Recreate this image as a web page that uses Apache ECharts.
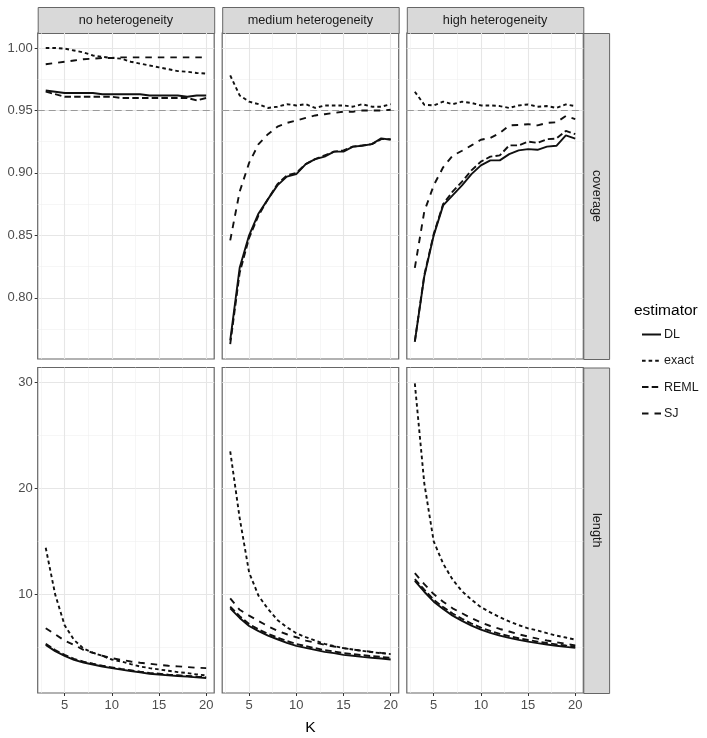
<!DOCTYPE html>
<html><head><meta charset="utf-8">
<script src="https://cdn.jsdelivr.net/npm/echarts@6/dist/echarts.min.js"></script>
<style>html,body{margin:0;padding:0;background:#fff}#c{width:707px;height:738px}</style>
</head><body><div id="c"></div>
<script>
// ---------- data ----------
const K = [3,4,5,6,7,8,9,10,11,12,13,14,15,16,17,18,19,20];
const facetCols = ["no heterogeneity", "medium heterogeneity", "high heterogeneity"];
const facetRows = ["coverage", "length"];
const estimators = ["DL", "exact", "REML", "SJ"];
const xTicks = [5, 10, 15, 20];
const xMinor = [2.5, 7.5, 12.5, 17.5];
const covTicks = [0.80, 0.85, 0.90, 0.95, 1.00];
const covMinor = [0.775, 0.825, 0.875, 0.925, 0.975];
const lenTicks = [10, 20, 30];
const lenMinor = [5, 15, 25];
const nominal = 0.95;

// coverage
const cov_none_DL    = [0.966,0.965,0.964,0.964,0.964,0.964,0.963,0.963,0.963,0.963,0.963,0.962,0.962,0.962,0.962,0.961,0.962,0.962];
const cov_none_exact = [1.000,1.000,0.9995,0.998,0.9965,0.994,0.993,0.992,0.9915,0.989,0.9875,0.986,0.9845,0.983,0.9815,0.981,0.980,0.9795];
const cov_none_REML  = [0.965,0.963,0.961,0.961,0.961,0.961,0.961,0.961,0.960,0.960,0.960,0.960,0.960,0.960,0.960,0.960,0.958,0.960];
const cov_none_SJ    = [0.987,0.988,0.989,0.990,0.991,0.9915,0.992,0.992,0.9925,0.9925,0.9925,0.9925,0.9925,0.9925,0.9925,0.9925,0.9925,0.9925];

const cov_med_DL     = [0.766,0.824,0.850,0.8675,0.879,0.890,0.897,0.899,0.907,0.911,0.913,0.917,0.917,0.921,0.9217,0.923,0.9276,0.9265];
const cov_med_exact  = [0.978,0.962,0.957,0.955,0.952,0.953,0.955,0.954,0.955,0.952,0.954,0.954,0.954,0.953,0.955,0.953,0.953,0.955];
const cov_med_REML   = [0.763,0.820,0.848,0.866,0.879,0.891,0.898,0.900,0.907,0.911,0.914,0.917,0.918,0.921,0.922,0.923,0.927,0.927];
const cov_med_SJ     = [0.846,0.885,0.908,0.923,0.931,0.937,0.940,0.942,0.944,0.946,0.947,0.948,0.949,0.949,0.950,0.950,0.950,0.9505];

const cov_high_DL    = [0.765,0.817,0.850,0.874,0.882,0.890,0.899,0.906,0.910,0.910,0.915,0.918,0.919,0.9185,0.921,0.9217,0.930,0.9275];
const cov_high_exact = [0.965,0.9546,0.954,0.957,0.955,0.957,0.956,0.954,0.954,0.9535,0.952,0.954,0.9548,0.953,0.9535,0.952,0.9548,0.9535];
const cov_high_REML  = [0.765,0.818,0.851,0.875,0.885,0.893,0.902,0.909,0.913,0.914,0.922,0.922,0.925,0.924,0.927,0.9275,0.9336,0.931];
const cov_high_SJ    = [0.824,0.869,0.890,0.9045,0.9137,0.9177,0.922,0.9265,0.928,0.932,0.938,0.9384,0.939,0.938,0.940,0.9405,0.9455,0.943];

// length
const len_none_DL    = [5.24,4.65,4.21,3.83,3.58,3.39,3.2,3.05,2.9,2.77,2.64,2.52,2.45,2.36,2.3,2.24,2.17,2.11];
const len_none_exact = [14.4,10.0,7.1,5.7,4.9,4.5,4.2,3.86,3.67,3.43,3.2,3.05,2.92,2.8,2.67,2.58,2.45,2.36];
const len_none_REML  = [5.35,4.75,4.3,3.92,3.66,3.46,3.27,3.12,2.97,2.84,2.71,2.59,2.52,2.43,2.37,2.31,2.24,2.18];
const len_none_SJ    = [6.81,6.24,5.64,5.24,4.77,4.49,4.21,3.99,3.83,3.67,3.55,3.46,3.36,3.27,3.21,3.15,3.08,3.05];

const len_med_DL     = [8.68,7.78,7.02,6.53,6.11,5.77,5.43,5.15,4.96,4.77,4.58,4.46,4.3,4.21,4.11,4.02,3.95,3.86];
const len_med_exact  = [23.5,17.2,12.07,9.87,8.62,7.59,6.9,6.34,5.96,5.64,5.33,5.12,4.93,4.8,4.68,4.55,4.46,4.37];
const len_med_REML   = [8.85,7.95,7.2,6.7,6.28,5.93,5.6,5.32,5.12,4.93,4.74,4.62,4.46,4.37,4.27,4.18,4.1,4.02];
const len_med_SJ     = [9.62,8.55,8.0,7.49,7.0,6.58,6.24,5.96,5.64,5.46,5.24,5.08,4.93,4.8,4.68,4.58,4.48,4.4];

const len_high_DL    = [11.28,10.25,9.31,8.62,8.0,7.5,7.05,6.68,6.37,6.11,5.9,5.71,5.55,5.4,5.27,5.15,5.05,4.96];
const len_high_exact = [29.9,20.5,15.0,12.9,11.4,10.3,9.5,8.8,8.3,7.85,7.45,7.1,6.8,6.6,6.34,6.11,5.93,5.74];
const len_high_REML  = [11.45,10.45,9.5,8.8,8.2,7.7,7.25,6.87,6.55,6.28,6.06,5.86,5.7,5.55,5.41,5.29,5.18,5.08];
const len_high_SJ    = [12.0,10.97,10.03,9.31,8.69,8.22,7.75,7.37,7.02,6.74,6.5,6.24,6.02,5.83,5.65,5.49,5.34,5.19];

// ---------- layout / style ----------
const panelData = [
  [ {DL:cov_none_DL, exact:cov_none_exact, REML:cov_none_REML, SJ:cov_none_SJ},
    {DL:cov_med_DL,  exact:cov_med_exact,  REML:cov_med_REML,  SJ:cov_med_SJ},
    {DL:cov_high_DL, exact:cov_high_exact, REML:cov_high_REML, SJ:cov_high_SJ} ],
  [ {DL:len_none_DL, exact:len_none_exact, REML:len_none_REML, SJ:len_none_SJ},
    {DL:len_med_DL,  exact:len_med_exact,  REML:len_med_REML,  SJ:len_med_SJ},
    {DL:len_high_DL, exact:len_high_exact, REML:len_high_REML, SJ:len_high_SJ} ]
];
const FONT = "'Liberation Sans', Arial, Helvetica, sans-serif";
const colLeft = [37.7, 222.2, 406.8];
const colW = 176.5;
const rowTop = [33, 367.5];
const rowH = [326, 325.5];
const stripTop = 7, stripH = 26;
const stripRightX = 583.3, stripRightW = 25.8;
const xRange = [2.15, 20.85];
const yRanges = [[0.751, 1.012], [0.7, 31.4]];
const yMajor = [covTicks, lenTicks];
const yMinorV = [covMinor, lenMinor];
const dash = { DL: 'solid', exact: [3.6, 3.0], REML: [6.5, 3.2], SJ: [6.5, 6.0] };
const borderCol = '#666';
const lineCol = '#111';

const grid = [], xAxis = [], yAxis = [], series = [];
const xMinorAxes = [], yMinorAxes = [];
for (let r = 0; r < 2; r++) {
  for (let c = 0; c < 3; c++) {
    const gi = r * 3 + c;
    grid.push({ left: colLeft[c], top: rowTop[r], width: colW, height: rowH[r],
      show: true, backgroundColor: '#fff', borderColor: borderCol, borderWidth: 1.2, containLabel: false });
    xAxis.push({ type: 'value', gridIndex: gi, min: xRange[0], max: xRange[1],
      axisLine: { show: false },
      axisTick: { show: r === 1, customValues: xTicks, length: 3, lineStyle: { color: '#333', width: 1 } },
      axisLabel: { show: r === 1, customValues: xTicks, color: '#4d4d4d', fontSize: 13, fontFamily: FONT, margin: 6 },
      splitLine: { show: true, lineStyle: { color: '#e6e6e6', width: 1.1 } },
      name: (r === 1 && c === 1) ? 'K' : '', nameLocation: 'middle', nameGap: 27,
      nameTextStyle: { color: '#000', fontSize: 15.5, fontFamily: FONT }
    });
    xMinorAxes.push({ type: 'value', gridIndex: gi, min: xRange[0], max: xRange[1],
      axisLine: { show: false }, axisTick: { show: false, customValues: xMinor },
      axisLabel: { show: false, customValues: xMinor },
      splitLine: { show: true, lineStyle: { color: '#f0f0f0', width: 0.6 } } });
    yAxis.push({ type: 'value', gridIndex: gi, min: yRanges[r][0], max: yRanges[r][1],
      axisLine: { show: false },
      axisTick: { show: c === 0, customValues: yMajor[r], length: 3, lineStyle: { color: '#333', width: 1 } },
      axisLabel: { show: c === 0, customValues: yMajor[r], color: '#4d4d4d', fontSize: 13, fontFamily: FONT, margin: 5,
        formatter: v => r === 0 ? v.toFixed(2) : String(v) },
      splitLine: { show: true, lineStyle: { color: '#e6e6e6', width: 1.1 } } });
    yMinorAxes.push({ type: 'value', gridIndex: gi, min: yRanges[r][0], max: yRanges[r][1],
      axisLine: { show: false }, axisTick: { show: false, customValues: yMinorV[r] },
      axisLabel: { show: false, customValues: yMinorV[r] },
      splitLine: { show: true, lineStyle: { color: '#f0f0f0', width: 0.6 } } });

    estimators.forEach((e, ei) => {
      const s = {
        type: 'line', name: e, xAxisIndex: gi, yAxisIndex: gi,
        data: K.map((k, j) => [k, panelData[r][c][e][j]]),
        symbol: 'none', showSymbol: false, animation: false, silent: true, z: 3 + ei,
        itemStyle: { color: lineCol, opacity: 0 },
        lineStyle: { color: lineCol, width: 1.9, type: dash[e] }
      };
      if (r === 0 && ei === 0) {
        s.markLine = { silent: true, symbol: ['none', 'none'], label: { show: false }, animation: false,
          lineStyle: { color: '#9a9a9a', type: [7, 4], width: 1, opacity: 1 }, data: [{ yAxis: nominal }] };
      }
      series.push(s);
    });
  }
}

const graphic = [];
facetCols.forEach((t, c) => {
  graphic.push({ type: 'rect', left: colLeft[c], top: stripTop,
    shape: { width: colW, height: stripH }, style: { fill: '#d9d9d9', stroke: borderCol, lineWidth: 1 } });
  graphic.push({ type: 'text', x: colLeft[c] + colW / 2, y: stripTop + stripH / 2,
    style: { text: t, fill: '#1a1a1a', font: '12.7px ' + FONT, align: 'center', verticalAlign: 'middle' } });
});
facetRows.forEach((t, r) => {
  graphic.push({ type: 'rect', left: stripRightX, top: rowTop[r],
    shape: { width: stripRightW, height: rowH[r] }, style: { fill: '#d9d9d9', stroke: borderCol, lineWidth: 1 } });
  graphic.push({ type: 'text', x: stripRightX + stripRightW / 2, y: rowTop[r] + rowH[r] / 2, rotation: -Math.PI / 2,
    style: { text: t, fill: '#1a1a1a', font: '12.7px ' + FONT, align: 'center', verticalAlign: 'middle' } });
});
graphic.push({ type: 'text', x: 634, y: 311,
  style: { text: 'estimator', fill: '#000', font: '15.5px ' + FONT, align: 'left', verticalAlign: 'middle' } });

const chart = echarts.init(document.getElementById('c'), null, { renderer: 'canvas', width: 707, height: 738 });
chart.setOption({
  animation: false,
  backgroundColor: '#fff',
  grid: grid,
  xAxis: xAxis.concat(xMinorAxes),
  yAxis: yAxis.concat(yMinorAxes),
  legend: {
    data: estimators, orient: 'vertical', left: 636, top: 323,
    itemWidth: 19, itemHeight: 12, itemGap: 13.3, selectedMode: false,
    itemStyle: { opacity: 0 },
    textStyle: { color: '#1a1a1a', fontSize: 12.5, fontFamily: FONT, padding: [0, 0, 0, -2] }
  },
  graphic: graphic,
  series: series
});
</script>
</body></html>
